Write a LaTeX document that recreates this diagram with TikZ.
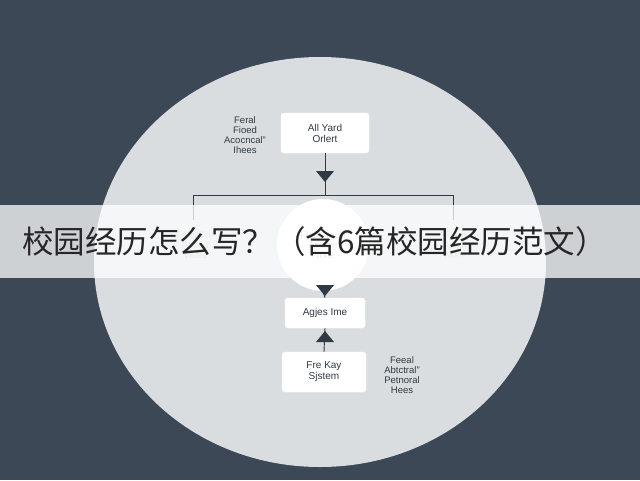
\documentclass[tikz,border=0pt]{standalone}
\usepackage{fontspec}
\setmainfont{Liberation Sans}
\newfontfamily\cjk{Noto Sans CJK SC}
\definecolor{bg}{HTML}{3D4856}
\definecolor{ell}{HTML}{DADDE0}
\definecolor{ink}{HTML}{2F3A44}
\begin{document}
\begin{tikzpicture}[x=1pt,y=-1pt,
  box/.style={draw=white,fill=white,rounded corners=3pt,minimum width=84pt,minimum height=38pt,align=center,font=\fontsize{10}{11}\selectfont,text=ink},
  lbl/.style={align=center,font=\fontsize{9.5}{10}\selectfont,text=ink},
  ln/.style={draw=ink,line width=0.9pt},
  tri/.style={fill=ink}]
\useasboundingbox (0,0) rectangle (640,480);
\fill[bg] (0,0) rectangle (640,480);
\fill[ell] (320,262) ellipse [x radius=226pt, y radius=205pt];
\node[box,minimum width=88pt,minimum height=40pt] (top) at (325,133) {All Yard\\Orlert};
\node[lbl] (tl) at (245,135) {Feral\\Fioed\\Acocncal"\\Ihees};
\node[circle,fill=white,minimum size=92pt] (mid) at (323,245) {};
\node[lbl,text=gray!60] (midt) at (323,245) {Flete Yeod\\Acoele\\Nore};
\node[lbl,text=gray!60] (lt) at (195,245) {Fleet Tre\\Aocod\\Vales};
\node[lbl,text=gray!60] (rt) at (455,245) {Fleet\\Acocl\\Nore};
\node[box,minimum width=80pt,minimum height=30pt] (ag) at (325,313) {Agjes Ime};
\node[box,minimum width=84pt,minimum height=40pt] (fk) at (324,372) {Fre Kay\\Sjstem};
\node[lbl] (br) at (402,375) {Feeal\\Abtctral"\\Petnoral\\Hees};
\coordinate (j) at (325,195);
\coordinate (jl) at (193,195);
\coordinate (jr) at (453,195);
\draw[ln] (top.south) -- (j);
\fill[tri] (316,171) -- (334,171) -- (325,182) -- cycle;
\draw[ln] (jl) -- (jr);
\draw[ln] (jl) -- ++(0,25);
\draw[ln] (jr) -- ++(0,25);
\draw[ln] (mid.south) -- (ag.north);
\fill[tri] (316,285) -- (334,285) -- (325,296) -- cycle;
\draw[ln] (fk.north) -- (ag.south);
\fill[tri] (316,342) -- (334,342) -- (325,331) -- cycle;
\fill[white,opacity=0.75] (0,205) rectangle (640,278);
\node[font=\cjk\fontsize{31.5}{32}\selectfont,text=black!85,anchor=west,inner sep=0pt] (title) at (22,242) {校园经历怎么写？（含6篇校园经历范文）};
\end{tikzpicture}
\end{document}
